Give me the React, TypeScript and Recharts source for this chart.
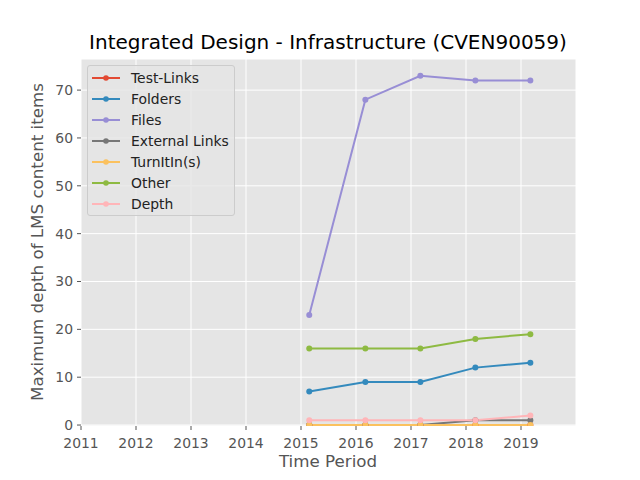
import React from 'react'
import { LineChart, Line, XAxis, YAxis, CartesianGrid } from 'recharts'

// matplotlib "ggplot" style colours, literal hex (Recharts wants real values)
const BG = '#E5E5E5'
const TICK_GREY = '#555555'

const periods = [2015.15, 2016.17, 2017.17, 2018.17, 2019.17]
const testLinks = [0, 0, 0, 0, 0]
const folders = [7, 9, 9, 12, 13]
const files = [23, 68, 73, 72, 72]
const externalLinks = [0, 0, 0, 1, 1]
const turnItIns = [0, 0, 0, 0, 0]
const other = [16, 16, 16, 18, 19]
const depth = [1, 1, 1, 1, 2]

const yearTicks = [2011, 2012, 2013, 2014, 2015, 2016, 2017, 2018, 2019]
const depthTicks = [0, 10, 20, 30, 40, 50, 60, 70]

const SERIES = [
    { key: 'testLinks', name: 'Test-Links', color: '#E24A33', values: testLinks },
    { key: 'folders', name: 'Folders', color: '#348ABD', values: folders },
    { key: 'files', name: 'Files', color: '#988ED5', values: files },
    { key: 'externalLinks', name: 'External Links', color: '#777777', values: externalLinks },
    { key: 'turnItIns', name: 'TurnItIn(s)', color: '#FBC15E', values: turnItIns },
    { key: 'other', name: 'Other', color: '#8EBA42', values: other },
    { key: 'depth', name: 'Depth', color: '#FFB5B8', values: depth },
]

const rows = periods.map((p, i) => {
    const row: Record<string, number> = { period: p }
    SERIES.forEach(s => { row[s.key] = s.values[i] })
    return row
})

const FONT = '"DejaVu Sans", sans-serif'

function ChartLegend() {
    return (
        <div
            style={{
                position: 'absolute',
                left: 87,
                top: 65,
                width: 146,
                height: 148,
                background: 'rgba(229,229,229,0.8)',
                border: '1px solid #cccccc',
                borderRadius: 3,
                paddingTop: 1,
                boxSizing: 'content-box',
            }}
        >
            {SERIES.map(s => (
                <div key={s.key} style={{ display: 'flex', alignItems: 'center', height: 21 }}>
                    <svg width={28} height={8} style={{ marginLeft: 4, flexShrink: 0 }}>
                        <line x1={0} y1={4} x2={28} y2={4} stroke={s.color} strokeWidth={2} />
                        <circle cx={14} cy={4} r={2.8} fill={s.color} />
                    </svg>
                    <span style={{ marginLeft: 11, fontSize: 13.9, color: '#222222', whiteSpace: 'nowrap' }}>
                        {s.name}
                    </span>
                </div>
            ))}
        </div>
    )
}

export default function App() {
    return (
        <div style={{ position: 'absolute', left: 0, top: 0, width: 640, height: 480, background: '#FFFFFF', fontFamily: FONT }}>
            <LineChart
                width={640}
                height={480}
                data={rows}
                margin={{ top: 59, right: 64, bottom: 0, left: 0 }}
            >
                <CartesianGrid stroke="#FFFFFF" strokeWidth={1} fill={BG} />
                <XAxis
                    dataKey="period"
                    type="number"
                    domain={[2011, 2020]}
                    ticks={yearTicks}
                    allowDataOverflow
                    height={54}
                    axisLine={false}
                    tickSize={4}
                    tickMargin={8}
                    tickLine={{ stroke: TICK_GREY }}
                    tick={{ fill: TICK_GREY, fontSize: 13.9, fontFamily: FONT }}
                />
                <YAxis
                    type="number"
                    domain={[-0.2, 76.5]}
                    ticks={depthTicks}
                    allowDataOverflow
                    width={81}
                    axisLine={false}
                    tickSize={4}
                    tickMargin={4}
                    tickLine={{ stroke: TICK_GREY }}
                    tick={{ fill: TICK_GREY, fontSize: 13.9, fontFamily: FONT }}
                />
                {SERIES.map(s => (
                    <Line
                        key={s.key}
                        dataKey={s.key}
                        name={s.name}
                        type="linear"
                        stroke={s.color}
                        strokeWidth={2}
                        dot={{ r: 3, fill: s.color, stroke: s.color, strokeWidth: 0 }}
                        activeDot={false}
                        isAnimationActive={false}
                    />
                ))}
            </LineChart>
            <svg width={640} height={480} style={{ position: 'absolute', left: 0, top: 0, pointerEvents: 'none' }}>
                <text x={328} y={49} textAnchor="middle" fontSize={20} fill="#000000" fontFamily={FONT}>
                    Integrated Design - Infrastructure (CVEN90059)
                </text>
                <text x={328} y={467} textAnchor="middle" fontSize={16.7} fill={TICK_GREY} fontFamily={FONT}>
                    Time Period
                </text>
                <text
                    x={0}
                    y={0}
                    transform="translate(43,242) rotate(-90)"
                    textAnchor="middle"
                    fontSize={16.7}
                    fill={TICK_GREY}
                    fontFamily={FONT}
                >
                    Maximum depth of LMS content items
                </text>
            </svg>
            <ChartLegend />
        </div>
    )
}
